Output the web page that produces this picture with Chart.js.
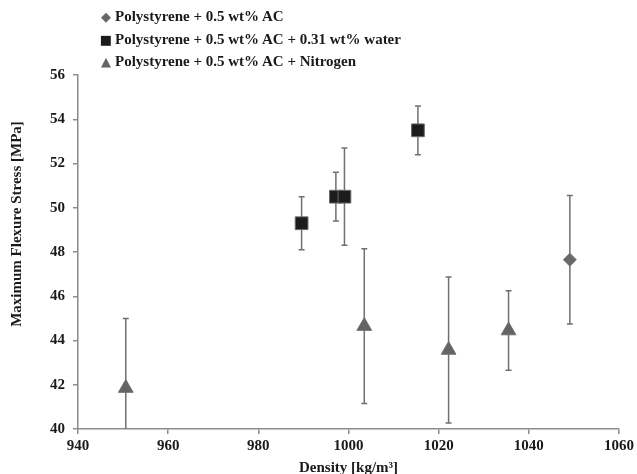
<!DOCTYPE html>
<html>
<head>
<meta charset="utf-8">
<script src="https://cdn.jsdelivr.net/npm/chart.js@4.4.0/dist/chart.umd.min.js"></script>
<style>
  html, body { margin: 0; padding: 0; background: #fff; }
  #wrap { position: relative; width: 637px; height: 474px; }
  #legend { position: absolute; left: 99px; top: 5px; font: bold 15px "Liberation Serif", serif; color: #1a1a1a; }
  #legend div { height: 22.5px; line-height: 22.5px; white-space: nowrap; }
  #legend .mk { display: inline-block; width: 14px; text-align: center; margin-right: 2px; font-family: "DejaVu Sans", sans-serif; font-size: 13px; }
</style>
</head>
<body>
<div id="wrap">
  <canvas id="chart" width="637" height="474"></canvas>
  <div id="legend"></div>
</div>
<script>
// series labels
const seriesLabels = [
    "Polystyrene + 0.5 wt% AC",
    "Polystyrene + 0.5 wt% AC + 0.31 wt% water",
    "Polystyrene + 0.5 wt% AC + Nitrogen",
];

// density [kg/m3], stress [MPa], error (+/-)
const acDensity = [1049.1];
const acStress = [47.65];
const acError = [2.9];

const waterDensity = [989.6, 997.2, 999.1, 1015.4];
const waterStress = [49.3, 50.5, 50.5, 53.5];
const waterError = [1.2, 1.1, 2.2, 1.1];

const nitrogenDensity = [950.6, 1003.5, 1022.2, 1035.5];
const nitrogenStress = [41.85, 44.65, 43.57, 44.45];
const nitrogenError = [3.15, 3.5, 3.3, 1.8];

const xTicks = [940, 960, 980, 1000, 1020, 1040, 1060];
const yTicks = [40, 42, 44, 46, 48, 50, 52, 54, 56];

const yTitle = "Maximum Flexure Stress [MPa]";
const xTitle = "Density [kg/m³]";

const toPoints = (xs, ys) => xs.map((x, i) => ({ x: x, y: ys[i] }));

const axisGray = "#8c8c8c";
const textColor = "#1a1a1a";
const serif = "'Liberation Serif', 'Times New Roman', serif";

// vertical error bars drawn under the markers
const errorBars = {
    id: "errorBars",
    beforeDatasetsDraw: (chart) => {
        const ctx = chart.ctx;
        const { left, right, top, bottom } = chart.chartArea;
        const xs = chart.scales.x;
        const ys = chart.scales.y;
        ctx.save();
        ctx.beginPath();
        ctx.rect(left, top, right - left, bottom - top);
        ctx.clip();
        ctx.strokeStyle = "#707070";
        ctx.lineWidth = 1.5;
        chart.data.datasets.forEach((ds) => {
            ds.data.forEach((p, i) => {
                const px = xs.getPixelForValue(p.x);
                const yTop = ys.getPixelForValue(p.y + ds.errors[i]);
                const yBot = ys.getPixelForValue(p.y - ds.errors[i]);
                ctx.beginPath();
                ctx.moveTo(px, yTop);
                ctx.lineTo(px, yBot);
                ctx.moveTo(px - 3, yTop);
                ctx.lineTo(px + 3, yTop);
                ctx.moveTo(px - 3, yBot);
                ctx.lineTo(px + 3, yBot);
                ctx.stroke();
            });
        });
        ctx.restore();
    },
};

// y title sits a bit above the middle of the axis in the original
const yTitlePlugin = {
    id: "yTitle",
    afterDraw: (chart) => {
        const ctx = chart.ctx;
        ctx.save();
        ctx.translate(17, 224);
        ctx.rotate(-Math.PI / 2);
        ctx.font = "bold 15px " + serif;
        ctx.fillStyle = textColor;
        ctx.textAlign = "center";
        ctx.textBaseline = "middle";
        ctx.fillText(yTitle, 0, 0);
        ctx.restore();
    },
};

const chart = new Chart(document.getElementById("chart"), {
    type: "scatter",
    data: {
        datasets: [
            {
                label: seriesLabels[0],
                data: toPoints(acDensity, acStress),
                errors: acError,
                pointStyle: "rectRot",
                pointRadius: 6.5,
                backgroundColor: "#686868",
                borderColor: "#757575",
                borderWidth: 1,
            },
            {
                label: seriesLabels[1],
                data: toPoints(waterDensity, waterStress),
                errors: waterError,
                pointStyle: "rect",
                pointRadius: 9,
                backgroundColor: "#1c1c1c",
                borderColor: "#6a6a6a",
                borderWidth: 1,
            },
            {
                label: seriesLabels[2],
                data: toPoints(nitrogenDensity, nitrogenStress),
                errors: nitrogenError,
                pointStyle: "triangle",
                pointRadius: 8.5,
                backgroundColor: "#646464",
                borderColor: "#707070",
                borderWidth: 1,
            },
        ],
    },
    options: {
        responsive: false,
        animation: false,
        layout: { padding: { top: 75, right: 18, left: 0, bottom: 0 } },
        plugins: {
            legend: { display: false },
            tooltip: { enabled: false },
        },
        scales: {
            x: {
                type: "linear",
                min: 940,
                max: 1060,
                afterBuildTicks: (scale) => {
                    scale.ticks = xTicks.map((v) => ({ value: v }));
                },
                afterFit: (scale) => {
                    scale.height = 45;
                },
                ticks: {
                    font: { family: serif, size: 15, weight: "bold" },
                    color: textColor,
                    padding: 3,
                    callback: (v) => String(v),
                },
                grid: { drawOnChartArea: false, tickLength: 5, color: axisGray, lineWidth: 1.5 },
                border: { color: axisGray, width: 1.5 },
                title: {
                    display: true,
                    text: xTitle,
                    font: { family: serif, size: 15, weight: "bold", lineHeight: 1 },
                    color: textColor,
                    padding: { top: 0, bottom: -1.5 },
                },
            },
            y: {
                min: 40,
                max: 56,
                afterBuildTicks: (scale) => {
                    scale.ticks = yTicks.map((v) => ({ value: v }));
                },
                afterFit: (scale) => {
                    scale.width = 78;
                },
                ticks: {
                    font: { family: serif, size: 15, weight: "bold" },
                    color: textColor,
                    padding: 8,
                    callback: (v) => String(v),
                },
                grid: { drawOnChartArea: false, tickLength: 5, color: axisGray, lineWidth: 1.5 },
                border: { color: axisGray, width: 1.5 },
            },
        },
    },
    plugins: [errorBars, yTitlePlugin],
});

// legend stacked top-left like the original
const marks = [
    { ch: "\u25C6", color: "#686868" },
    { ch: "\u25A0", color: "#1c1c1c" },
    { ch: "\u25B2", color: "#646464" },
];
const legend = document.getElementById("legend");
seriesLabels.forEach((label, i) => {
    const row = document.createElement("div");
    const mk = document.createElement("span");
    mk.className = "mk";
    mk.textContent = marks[i].ch;
    mk.style.color = marks[i].color;
    row.appendChild(mk);
    row.appendChild(document.createTextNode(label));
    legend.appendChild(row);
});
</script>
</body>
</html>
